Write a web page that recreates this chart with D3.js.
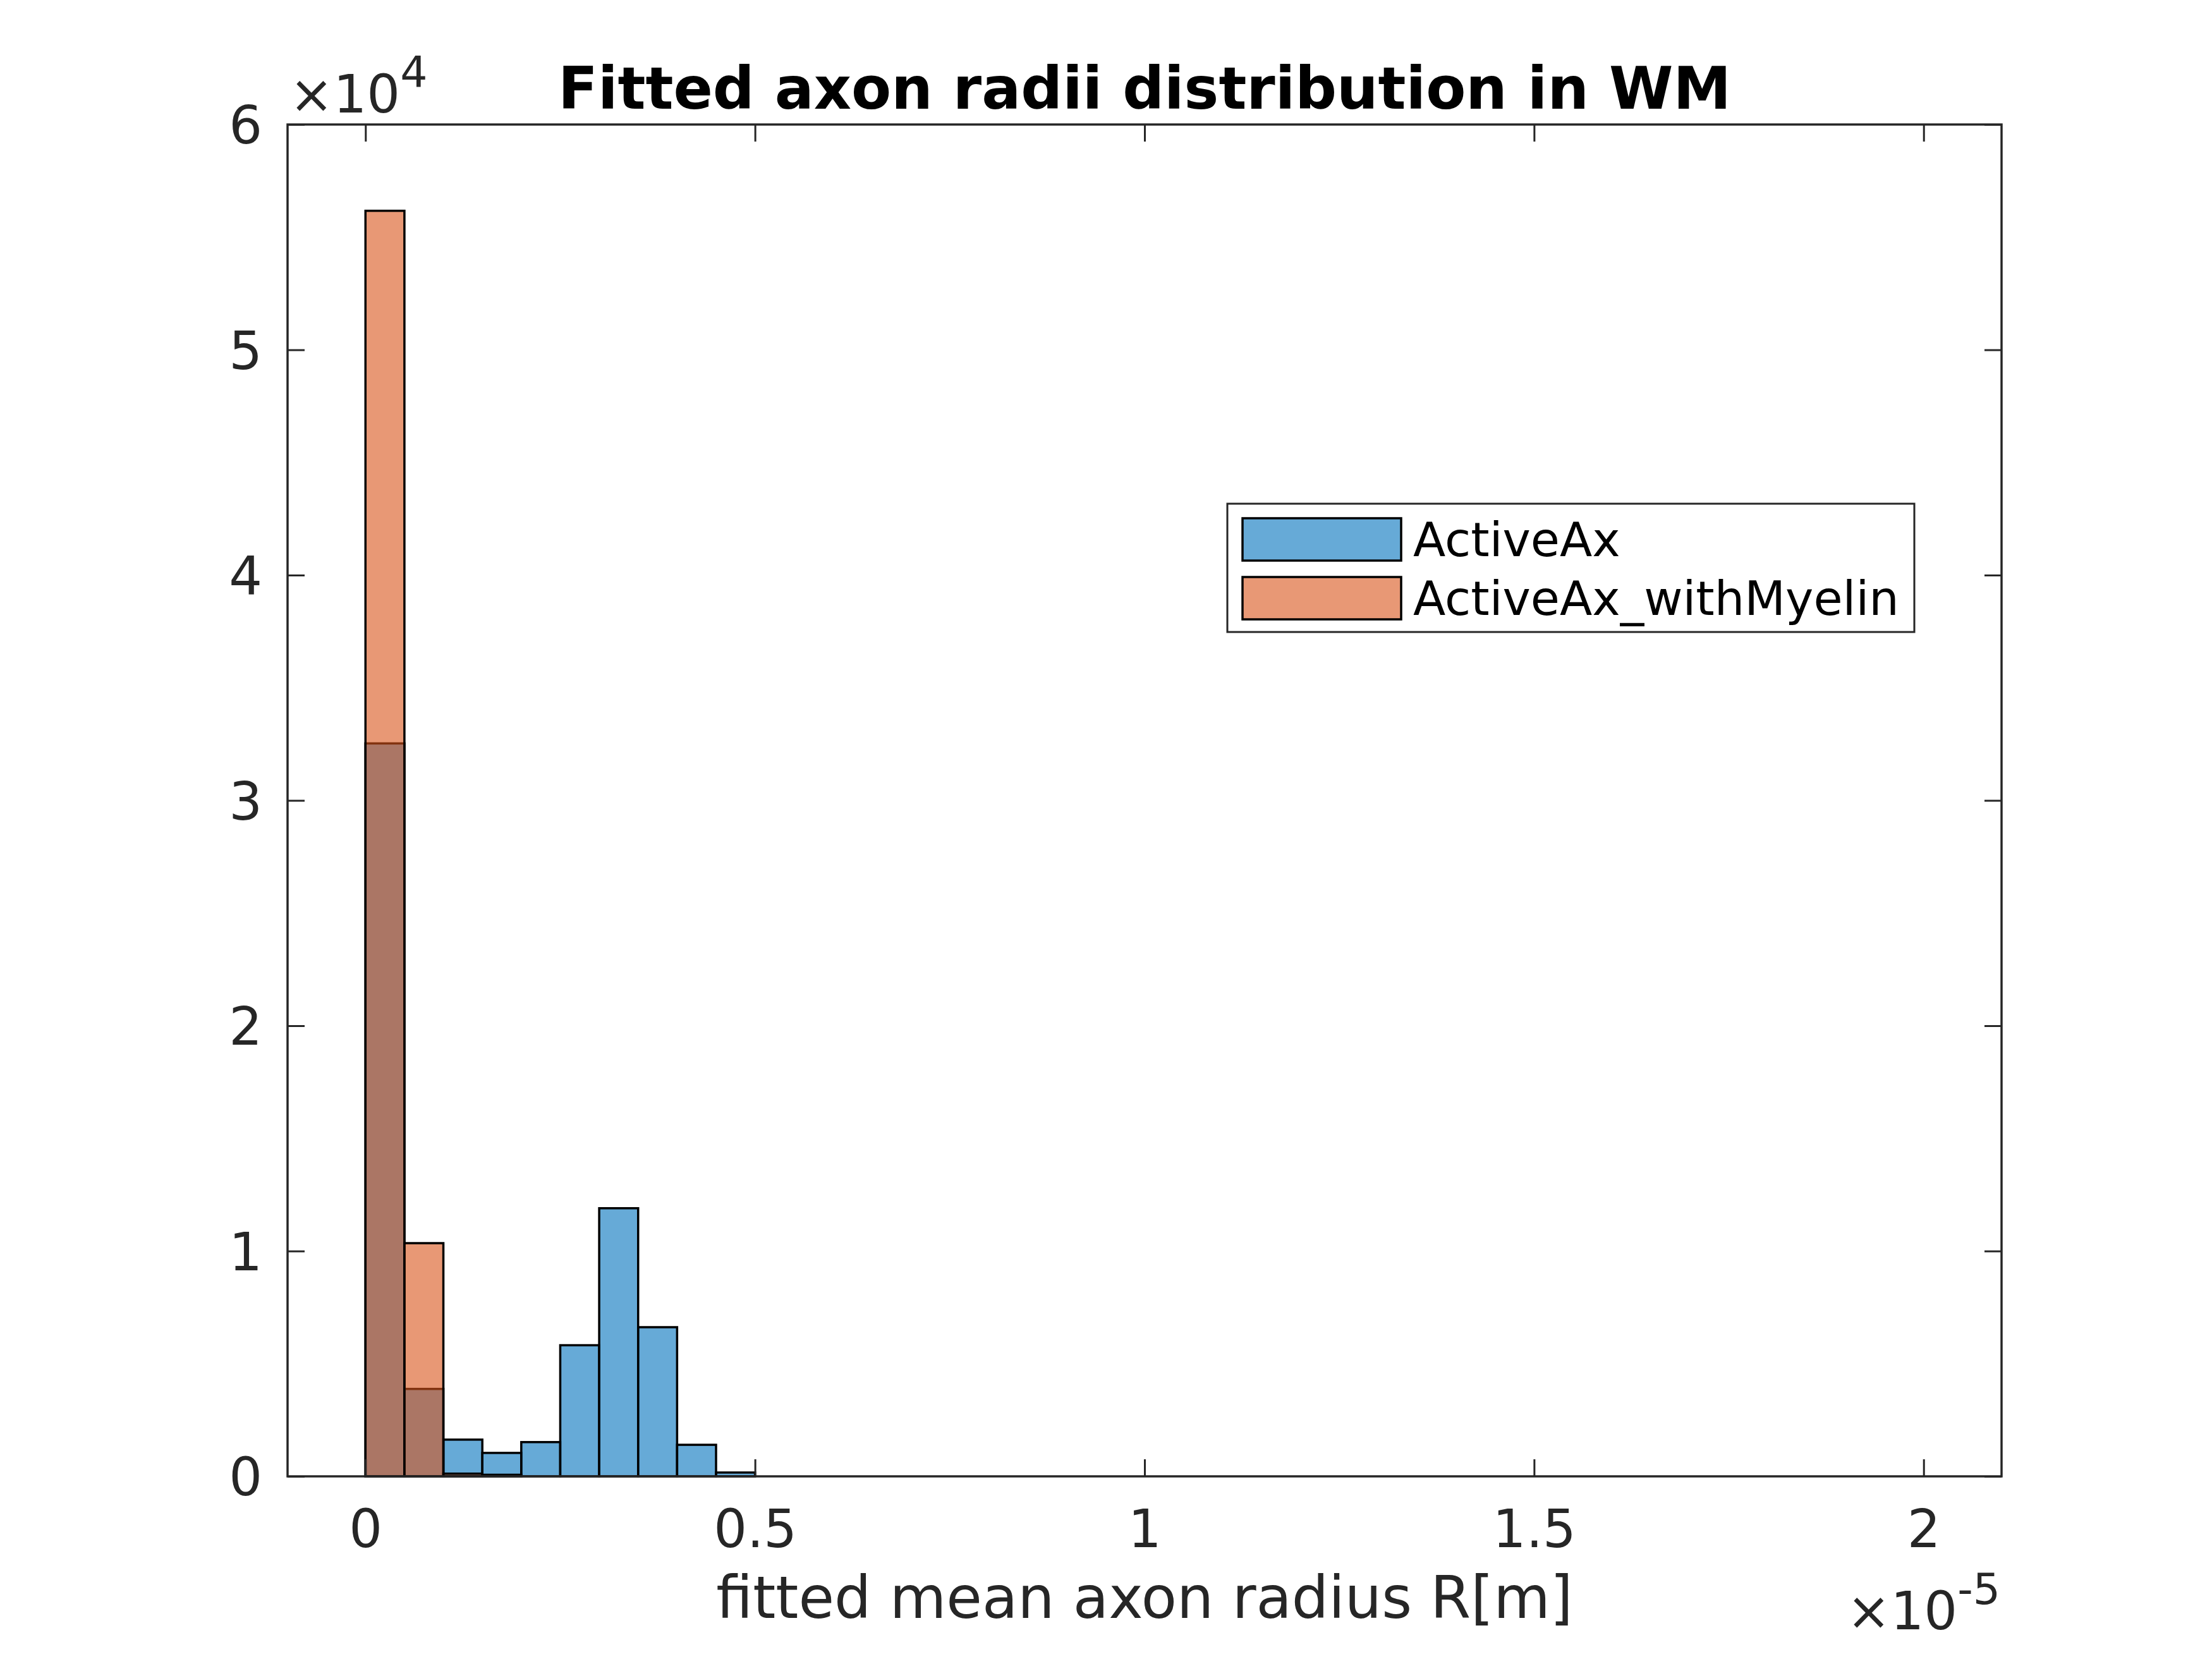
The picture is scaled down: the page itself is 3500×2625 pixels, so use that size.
<!DOCTYPE html>
<html>
<head>
<meta charset="utf-8">
<script src="https://cdn.jsdelivr.net/npm/d3@7"></script>
<style>
  html, body { margin: 0; padding: 0; background: #ffffff; }
  svg { display: block; }
</style>
</head>
<body>
<svg id="chart" width="3500" height="2625"></svg>
<script>
// ---- data ----
const binEdges = [0, 5e-7, 1e-6, 1.5e-6, 2e-6, 2.5e-6, 3e-6, 3.5e-6, 4e-6, 4.5e-6, 5e-6];
const activeAxCounts = [32530, 3880, 1630, 1040, 1520, 5820, 11900, 6620, 1400, 170];
const activeAxMyelinCounts = [56170, 10350, 120, 70];
const seriesNames = ["ActiveAx", "ActiveAx_withMyelin"];
const xTicks = [0, 0.5e-5, 1e-5, 1.5e-5, 2e-5];
const xTickLabels = ["0", "0.5", "1", "1.5", "2"];
const yTicks = [0, 1e4, 2e4, 3e4, 4e4, 5e4, 6e4];
const yTickLabels = ["0", "1", "2", "3", "4", "5", "6"];
const titleText = "Fitted axon radii distribution in WM";
const xLabelText = "fitted mean axon radius R[m]";

(function () {
  // ---- layout ----
  const W = 3500, H = 2625;
  const pLeft = 455, pRight = 3167, pTop = 197, pBottom = 2336;
  const axisColor = "#262626";
  const font = "'DejaVu Sans', sans-serif";
  const blue = "rgb(0,114,189)";
  const orange = "rgb(217,83,25)";

  const svg = d3.select("#chart");
  svg.append("rect").attr("width", W).attr("height", H).attr("fill", "#ffffff");

  const x = d3.scaleLinear().domain([-1e-6, 2.1e-5]).range([pLeft, pRight]);
  const y = d3.scaleLinear().domain([0, 6e4]).range([pBottom, pTop]);

  // ---- bars ----
  function drawHist(counts, color) {
    const data = counts.map((c, i) => ({x0: binEdges[i], x1: binEdges[i + 1], c}));
    svg.append("g").selectAll("rect").data(data).join("rect")
      .attr("x", d => x(d.x0))
      .attr("y", d => y(d.c))
      .attr("width", d => x(d.x1) - x(d.x0))
      .attr("height", d => y(0) - y(d.c))
      .attr("fill", color)
      .attr("fill-opacity", 0.6)
      .attr("stroke", "#000000")
      .attr("stroke-width", 3.5);
  }
  drawHist(activeAxCounts, blue);
  drawHist(activeAxMyelinCounts, orange);

  // ---- axes ----
  const tickLen = 27;
  const gx = svg.append("g").attr("transform", `translate(0,${pBottom})`)
    .call(d3.axisBottom(x).tickValues(xTicks).tickSizeInner(-tickLen).tickSizeOuter(0)
      .tickFormat((d, i) => xTickLabels[i]));
  const gxt = svg.append("g").attr("transform", `translate(0,${pTop})`)
    .call(d3.axisTop(x).tickValues(xTicks).tickSizeInner(-tickLen).tickSizeOuter(0).tickFormat(""));
  const gy = svg.append("g").attr("transform", `translate(${pLeft},0)`)
    .call(d3.axisLeft(y).tickValues(yTicks).tickSizeInner(-tickLen).tickSizeOuter(0)
      .tickFormat((d, i) => yTickLabels[i]));
  const gyr = svg.append("g").attr("transform", `translate(${pRight},0)`)
    .call(d3.axisRight(y).tickValues(yTicks).tickSizeInner(-tickLen).tickSizeOuter(0).tickFormat(""));

  [gx, gxt, gy, gyr].forEach(g => {
    g.select(".domain").remove();
    g.selectAll(".tick line").attr("stroke", axisColor).attr("stroke-width", 3);
  });
  gx.selectAll(".tick text")
    .attr("y", 112).attr("dy", null)
    .attr("font-family", font).attr("font-size", 83).attr("fill", axisColor);
  gy.selectAll(".tick text")
    .attr("x", -40).attr("dy", "0.36em")
    .attr("font-family", font).attr("font-size", 83).attr("fill", axisColor)
    .attr("text-anchor", "end");

  // box
  svg.append("rect").attr("x", pLeft).attr("y", pTop)
    .attr("width", pRight - pLeft).attr("height", pBottom - pTop)
    .attr("fill", "none").attr("stroke", axisColor).attr("stroke-width", 3.5);

  // ---- exponent labels ----
  const ey = svg.append("text").attr("x", 458).attr("y", 178)
    .attr("font-family", font).attr("font-size", 83).attr("fill", axisColor);
  ey.append("tspan").text("\u00d710");
  ey.append("tspan").attr("font-size", 68).attr("dy", -40).text("4");

  const ex = svg.append("text").attr("x", 3165).attr("y", 2578)
    .attr("text-anchor", "end")
    .attr("font-family", font).attr("font-size", 83).attr("fill", axisColor);
  ex.append("tspan").text("\u00d710");
  ex.append("tspan").attr("font-size", 68).attr("dy", -40).text("-5");

  // ---- title & label ----
  svg.append("text").attr("x", (pLeft + pRight) / 2).attr("y", 172)
    .attr("text-anchor", "middle").attr("font-family", font)
    .attr("font-weight", "bold").attr("font-size", 92).attr("fill", "#000000")
    .text(titleText);

  svg.append("text").attr("x", (pLeft + pRight) / 2).attr("y", 2560)
    .attr("text-anchor", "middle").attr("font-family", font)
    .attr("font-size", 92).attr("fill", axisColor)
    .text(xLabelText);

  // ---- legend ----
  const leg = svg.append("g");
  leg.append("rect").attr("x", 1942).attr("y", 797).attr("width", 1087).attr("height", 203)
    .attr("fill", "#ffffff").attr("stroke", axisColor).attr("stroke-width", 3);
  const legColors = [blue, orange];
  const legRowY = [820, 913];
  seriesNames.forEach((name, i) => {
    leg.append("rect").attr("x", 1966).attr("y", legRowY[i]).attr("width", 251).attr("height", 67)
      .attr("fill", legColors[i]).attr("fill-opacity", 0.6)
      .attr("stroke", "#000000").attr("stroke-width", 3.5);
    leg.append("text").attr("x", 2236).attr("y", legRowY[i] + 60)
      .attr("font-family", font).attr("font-size", 75).attr("fill", "#000000")
      .text(name);
  });
})();
</script>
</body>
</html>
